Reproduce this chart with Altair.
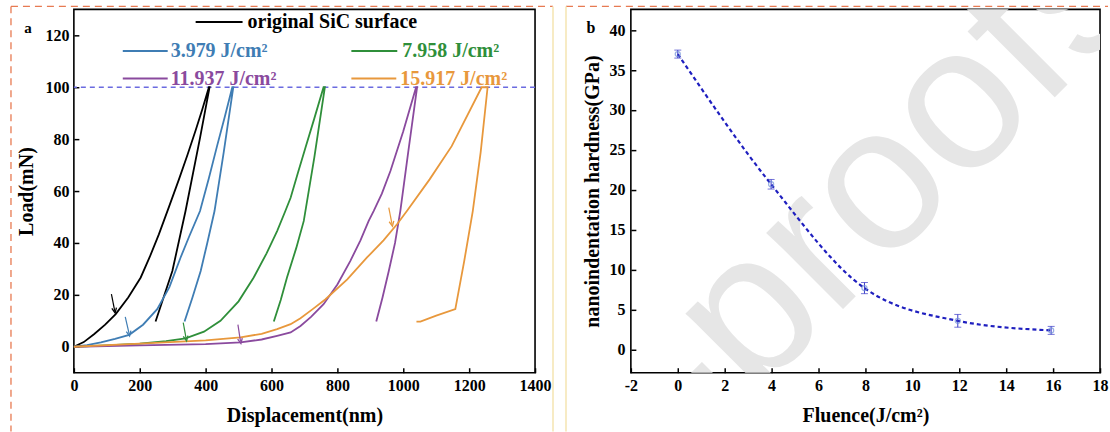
import altair as alt
import pandas as pd

FONT = "Liberation Serif"

# ---------------- Panel a data (load-displacement curves) ----------------
series_names = ["original SiC surface", "3.979 J/cm²", "7.958 J/cm²",
                "11.937 J/cm²", "15.917 J/cm²"]
series_colors = ["#000000", "#3f7db4", "#2f8f3a", "#8a4a9e", "#e8983c"]

orig_disp = [0, 30, 62, 95, 127, 165, 203, 230, 258, 289, 319, 345, 370, 390, 410,
             412, 383, 339, 299, 248]
orig_load = [0, 1.8, 4.9, 8.5, 12.6, 19, 26.7, 34.5, 43.3, 54, 64.5, 74, 83.5, 91.5, 100,
             100, 80.5, 52.3, 29.2, 9.7]

f1_disp = [0, 40, 82, 125, 168, 210, 253, 290, 324, 350, 383, 410, 435, 458, 481,
           484, 455, 427, 405, 385, 360, 336]
f1_load = [0, 0.6, 1.7, 3, 4.6, 8.5, 14.5, 23, 34.4, 42.5, 52.3, 65, 77.5, 88.5, 100,
           100, 75, 52.3, 40, 29.2, 19, 9.7]

f2_disp = [0, 100, 200, 280, 339, 395, 445, 500, 546, 585, 617, 642, 658, 680, 703, 730, 758,
           762, 730, 698, 675, 647, 628, 607]
f2_load = [0, 0.5, 1.2, 2.2, 3.2, 5.8, 10, 17.5, 26.7, 36, 44.6, 52.3, 57.4, 67, 76.7, 88, 100,
           100, 73, 48.5, 38, 26.7, 18, 9.7]

f3_disp = [0, 200, 400, 506, 570, 617, 658, 688, 720, 758, 800, 839, 870, 895, 910, 935, 961,
           1000, 1039, 1042, 1015, 991, 975, 956, 937, 918]
f3_load = [0, 0.5, 1.0, 1.7, 2.8, 4.2, 5.5, 8, 11.5, 16.4, 24, 33, 41, 48.5, 52.3, 59, 67.7,
           83, 100, 100, 75, 52.3, 40, 29.2, 19, 9.7]

f4_disp = [0, 200, 400, 506, 570, 617, 658, 688, 725, 764, 830, 890, 940, 981, 1011, 1080,
           1147, 1238, 1256, 1235, 1211, 1185, 1158, 1100, 1052, 1040]
f4_load = [0, 1.2, 2.5, 3.6, 5, 6.8, 8.7, 11, 14.5, 18.3, 26, 34.4, 41, 47.2, 52.3, 64.5,
           77.3, 100, 100, 75, 52.3, 33, 14.5, 12, 9.7, 9.7]

max_load = [100]

# arrows marking the pop-in / yield points (tail -> head, data units)
arrow_series = series_names
arrow_x_tail = [114, 156, 332, 498, 956]
arrow_y_tail = [20.3, 11.5, 9.3, 8.5, 53.6]
arrow_x_head = [124, 168, 341, 506, 966]
arrow_y_head = [13.8, 4.9, 3.0, 2.0, 47.2]

# ---------------- Panel b data (hardness vs fluence) ----------------
fluence = [0, 3.979, 7.958, 11.937, 15.917]
hardness = [37.0, 20.7, 7.7, 3.6, 2.4]
hardness_err = [0.5, 0.6, 0.7, 0.8, 0.5]

# ---------------- build tables ----------------
rows = []
for name, xs, ys in zip(series_names,
                        [orig_disp, f1_disp, f2_disp, f3_disp, f4_disp],
                        [orig_load, f1_load, f2_load, f3_load, f4_load]):
    for i, (x, y) in enumerate(zip(xs, ys)):
        rows.append({"series": name, "disp": x, "load": y, "i": i})
curves = pd.DataFrame(rows)

arrows = pd.DataFrame({"series": arrow_series, "x": arrow_x_tail, "y": arrow_y_tail,
                       "x2": arrow_x_head, "y2": arrow_y_head})

hard = pd.DataFrame({"fluence": fluence, "h": hardness,
                     "lo": [h - e for h, e in zip(hardness, hardness_err)],
                     "hi": [h + e for h, e in zip(hardness, hardness_err)]})

color_scale = alt.Scale(domain=series_names, range=series_colors)

W1, W2, H = 462, 470, 364
BORDER = "#e77a52"
BAND = "#f7ebc4"

axis_common = dict(offset=-5, tickSize=5, labelOverlap=False,
                   labelFont=FONT, labelFontSize=16, labelFontWeight="bold",
                   labelColor="black", titleFont=FONT, titleFontSize=20,
                   titleFontWeight="bold", titleColor="black")

xa = alt.X("disp:Q", scale=alt.Scale(domain=[0, 1400], nice=False),
           axis=alt.Axis(values=list(range(0, 1401, 200)), title="Displacement(nm)",
                         format="d", labelPadding=5, titlePadding=12,
                         labelFlush=False, **axis_common))
ya = alt.Y("load:Q", scale=alt.Scale(domain=[-10, 130], nice=False),
           axis=alt.Axis(values=list(range(0, 121, 20)), title="Load(mN)",
                         format="d", labelPadding=5, titlePadding=8, **axis_common))

lines = alt.Chart(curves).mark_line(strokeWidth=1.8).encode(
    x=xa, y=ya,
    color=alt.Color("series:N", scale=color_scale, legend=None),
    order="i:Q",
)

hline = alt.Chart(pd.DataFrame({"load": max_load})).mark_rule(
    color="#6b6be0", strokeDash=[5, 4], strokeWidth=1.3).encode(y="load:Q")

arrow_lines = alt.Chart(arrows).mark_rule(strokeWidth=1.2).encode(
    x="x:Q", y="y:Q", x2="x2:Q", y2="y2:Q",
    color=alt.Color("series:N", scale=color_scale, legend=None))
arrow_heads = alt.Chart(arrows).mark_point(
    shape="M -0.7 0.9 L 0 -0.6 L 0.7 0.9", filled=False, size=45, strokeWidth=1.3,
    angle=169, opacity=1).encode(
    x="x2:Q", y="y2:Q",
    color=alt.Color("series:N", scale=color_scale, legend=None))

# legend drawn inside the panel (pixel layout)
legend_layout = [(122, 169, 12.7, 174), (49, 94, 41.7, 97), (278, 324, 41.7, 329),
                 (49, 94, 69.3, 97), (278, 323, 69.3, 327)]
legend_layers = []
for name, col, (lx1, lx2, ly, tx) in zip(series_names, series_colors, legend_layout):
    base = alt.Chart(pd.DataFrame({"t": [name]}))
    legend_layers.append(base.mark_rule(color=col, strokeWidth=2).encode(
        x=alt.value(lx1), x2=alt.value(lx2), y=alt.value(ly)))
    legend_layers.append(base.mark_text(align="left", baseline="middle", font=FONT,
                                        fontWeight="bold", fontSize=20, color=col).encode(
        x=alt.value(tx), y=alt.value(ly), text="t:N"))

label_a = alt.Chart(pd.DataFrame({"t": ["a"]})).mark_text(
    font=FONT, fontWeight="bold", fontSize=15, color="black").encode(
    x=alt.value(-46), y=alt.value(19), text="t:N")

# page decorations around panel a (dashed frame, pale separator)
one = pd.DataFrame({"k": [0]})
deco_a = [
    alt.Chart(one).mark_rule(color=BORDER, strokeDash=[7, 5], strokeWidth=1.3).encode(
        x=alt.value(-63), x2=alt.value(480), y=alt.value(-3)),
    alt.Chart(one).mark_rule(color=BORDER, strokeDash=[7, 5], strokeWidth=1.3).encode(
        x=alt.value(-63), y=alt.value(-3), y2=alt.value(423)),
    alt.Chart(one).mark_rule(color=BAND, strokeWidth=2).encode(
        x=alt.value(480), y=alt.value(-3), y2=alt.value(423)),
]

left = alt.layer(*deco_a, hline, lines, arrow_lines, arrow_heads, *legend_layers,
                 label_a).properties(width=W1, height=H)

# ---------------- panel b ----------------
xb = alt.X("fluence:Q", scale=alt.Scale(domain=[-2, 18], nice=False),
           axis=alt.Axis(values=list(range(-2, 19, 2)), title="Fluence(J/cm²)",
                         labelExpr="'' + datum.value", labelPadding=5, titlePadding=12,
                         labelFlush=False, **axis_common))
yb = alt.Y("h:Q", scale=alt.Scale(domain=[-2.9, 42.6], nice=False),
           axis=alt.Axis(values=list(range(0, 41, 5)),
                         title="nanoindentation hardness(GPa)",
                         format="d", labelPadding=6, titlePadding=6, **axis_common))

watermark = alt.Chart(pd.DataFrame({"t": ["e-proofs"]})).mark_text(
    font="Liberation Sans", fontSize=205, color="#e6e6e6", angle=315,
    align="center", baseline="middle", clip=True).encode(
    x=alt.value(215), y=alt.value(210), text="t:N")

fit = alt.Chart(hard).mark_line(color="#1f1fbf", strokeDash=[4, 3], strokeWidth=2.2,
                                interpolate="monotone").encode(x=xb, y=yb)
err = alt.Chart(hard).mark_rule(color="#3a3ac8", strokeWidth=1).encode(
    x="fluence:Q", y="lo:Q", y2="hi:Q")
cap_lo = alt.Chart(hard).mark_tick(color="#3a3ac8", thickness=1, size=7,
                                   orient="horizontal").encode(x="fluence:Q", y="lo:Q")
cap_hi = alt.Chart(hard).mark_tick(color="#3a3ac8", thickness=1, size=7,
                                   orient="horizontal").encode(x="fluence:Q", y="hi:Q")
pts = alt.Chart(hard).mark_point(shape="circle", filled=False, color="#6f8fd8",
                                 size=26, strokeWidth=1.2).encode(x="fluence:Q", y="h:Q")

label_b = alt.Chart(pd.DataFrame({"t": ["b"]})).mark_text(
    font=FONT, fontWeight="bold", fontSize=16, color="black").encode(
    x=alt.value(-40), y=alt.value(19), text="t:N")

deco_b = [
    alt.Chart(one).mark_rule(color=BORDER, strokeDash=[7, 5], strokeWidth=1.3).encode(
        x=alt.value(-65), x2=alt.value(478), y=alt.value(-3)),
    alt.Chart(one).mark_rule(color=BAND, strokeWidth=2).encode(
        x=alt.value(-65), y=alt.value(-3), y2=alt.value(423)),
]

right = alt.layer(watermark, *deco_b, fit, err, cap_lo, cap_hi, pts, label_b).properties(
    width=W2, height=H)

chart = alt.hconcat(left, right, spacing=9).properties(
    padding={"left": 9, "top": 4, "right": 0, "bottom": 0},
    background="white",
).configure_view(
    stroke="black", strokeWidth=1.6
).configure_axis(
    tickColor="black", tickWidth=1.5, domain=False, grid=False,
)

chart.save("out.html", embed_options={"renderer": "svg", "actions": False})
